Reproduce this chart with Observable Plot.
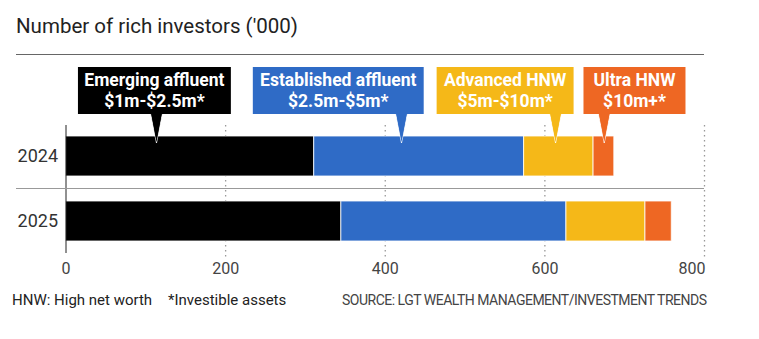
<!DOCTYPE html>
<html><head><meta charset="utf-8">
<script src="https://cdn.jsdelivr.net/npm/d3@7"></script>
<script src="https://cdn.jsdelivr.net/npm/@observablehq/plot@0.6"></script>
<style>
body{margin:0;background:#fff;font-family:Roboto,"Noto Sans",sans-serif;width:759px;height:339px;overflow:hidden;position:relative}
#title{position:absolute;left:16px;top:14px;font-size:20.5px;line-height:24px;color:#222;white-space:nowrap}
#rule{position:absolute;left:16px;top:54px;width:688px;height:1px;background:#666}
#chart{position:absolute;left:0;top:60px}
.foot{position:absolute;top:291px;font-size:15px;line-height:18px;color:#222;white-space:nowrap}
</style></head>
<body>
<div id="title">Number of rich investors ('000)</div>
<div id="rule"></div>
<div id="chart"></div>
<div class="foot" style="left:12px">HNW: High net worth</div>
<div class="foot" style="left:168px">*Investible assets</div>
<div class="foot" style="left:342px;color:#444;font-size:14px;letter-spacing:-0.5px">SOURCE: LGT WEALTH MANAGEMENT/INVESTMENT TRENDS</div>
<script>
const years = ["2024", "2025"];
const segments = ["Emerging affluent", "Established affluent", "Advanced HNW", "Ultra HNW"];
const ranges = ["$1m-$2.5m*", "$2.5m-$5m*", "$5m-$10m*", "$10m+*"];
const values2024 = [311, 263, 87, 26];
const values2025 = [345, 282, 99, 33];
const colors = ["#000000", "#2f6bc6", "#f5b818", "#ee6723"];
const xTicks = [0, 200, 400, 600, 800];

const table = [];
[values2024, values2025].forEach((vals, i) => {
  vals.forEach((v, j) => table.push({year: years[i], segment: segments[j], value: v}));
});

const font = "Roboto, 'Noto Sans', sans-serif";
const plot = Plot.plot({
  width: 759, height: 225,
  marginLeft: 65.5, marginRight: 55, marginTop: 65, marginBottom: 32,
  style: {fontFamily: font, background: "transparent"},
  x: {domain: [0, 800]},
  y: {domain: years, paddingInner: 0.383, paddingOuter: 0.166},
  color: {domain: segments, range: colors},
  marks: [
    Plot.ruleX(xTicks.slice(1), {stroke: "#999", strokeDasharray: "1.5,3.5", strokeWidth: 1.3, insetBottom: -5}),
    Plot.barX(table, {x: "value", y: "year", fill: "segment", stroke: "#fff", strokeWidth: 1, strokeOpacity: 0.8}),
    Plot.ruleX([0], {stroke: "#222", strokeWidth: 1}),
    Plot.axisX({ticks: xTicks.slice(0, -1), tickSize: 0, tickPadding: 9, fontSize: 16, color: "#444", label: null}),
    Plot.axisX({ticks: xTicks.slice(-1), tickSize: 0, tickPadding: 9, fontSize: 16, color: "#444", label: null, textAnchor: "end", dx: 1}),
    Plot.axisY({tickSize: 0, tickPadding: 8, fontSize: 18, color: "#333", label: null})
  ]
});
document.getElementById("chart").appendChild(plot);

// annotations
const xs = plot.scale("x"), ys = plot.scale("y");
const svg = d3.select(plot);
const bw = ys.bandwidth, step = ys.step;
const sepY = ys.apply("2024") + bw + (step - bw) / 2;
svg.append("line").attr("x1", 16).attr("x2", 704).attr("y1", sepY).attr("y2", sepY)
  .attr("stroke", "#999").attr("stroke-width", 1.2);

// callout layout (data units): box left, box right, pointer
const callouts = [[15.6, 207.2, 114], [234.7, 448.8, 421], [465, 636.6, 614], [649, 776.8, 675]];
const barTop = ys.apply("2024");
const g = svg.append("g");
callouts.forEach(([a, b, p], i) => {
  const x1 = xs.apply(a), x2 = xs.apply(b), px = xs.apply(p);
  const top = 7, bot = 54;
  g.append("path").attr("d", `M${px - 6},${bot - 1}L${px + 6},${bot - 1}L${px},${barTop + 7}Z`)
    .attr("fill", colors[i]).attr("stroke", "#fff").attr("stroke-width", 0.8);
  g.append("rect").attr("x", x1).attr("y", top).attr("width", x2 - x1).attr("height", bot - top).attr("fill", colors[i]);
  g.append("path").attr("d", `M${px - 5.5},${bot - 2}L${px + 5.5},${bot - 2}L${px},${barTop + 6}Z`).attr("fill", colors[i]);
  const cx = (x1 + x2) / 2;
  [segments[i], ranges[i]].forEach((t, k) => {
    g.append("text").attr("x", cx).attr("y", k ? 41 : 20).attr("text-anchor", "middle")
      .attr("dominant-baseline", "central").attr("fill", "#fff").attr("font-weight", "bold")
      .attr("font-size", 17.5).attr("font-family", font).text(t);
  });
});
</script>
</body></html>
